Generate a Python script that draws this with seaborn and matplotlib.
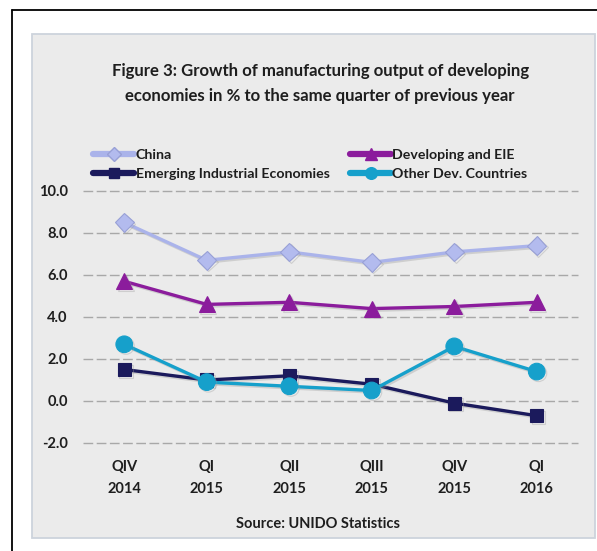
import matplotlib
matplotlib.use("Agg")
import matplotlib.pyplot as plt
import matplotlib.patheffects as pe
from matplotlib.patches import Rectangle
from matplotlib.lines import Line2D
import seaborn as sns

# Quarterly growth of manufacturing output (% vs same quarter of previous year)
quarters = ["QIV\n2014", "QI\n2015", "QII\n2015", "QIII\n2015", "QIV\n2015", "QI\n2016"]
china = [8.5, 6.7, 7.1, 6.6, 7.1, 7.4]
developing_eie = [5.7, 4.6, 4.7, 4.4, 4.5, 4.7]
emerging_industrial = [1.5, 1.0, 1.2, 0.8, -0.1, -0.7]
other_dev = [2.7, 0.9, 0.7, 0.5, 2.6, 1.4]

series_names = ["China", "Developing and EIE", "Emerging Industrial Economies", "Other Dev. Countries"]
y_ticks = [-2.0, 0.0, 2.0, 4.0, 6.0, 8.0, 10.0]

title_line1 = "Figure 3: Growth of manufacturing output of developing"
title_line2 = "economies in % to the same quarter of previous year"
source_text = "Source: UNIDO Statistics"

styles = {
    "China": dict(color="#aab3ea", marker="D", ms=9.5, mfc="#b3bbee", mec="#98a0d6"),
    "Developing and EIE": dict(color="#8b1c9c", marker="^", ms=11.5, mfc="#8b1c9c", mec="#8b1c9c"),
    "Emerging Industrial Economies": dict(color="#1b1a5c", marker="s", ms=9.5, mfc="#1b1a5c", mec="#1b1a5c"),
    "Other Dev. Countries": dict(color="#16a0cb", marker="o", ms=12, mfc="#16a0cb", mec="#16a0cb"),
}
values = {
    "China": china,
    "Developing and EIE": developing_eie,
    "Emerging Industrial Economies": emerging_industrial,
    "Other Dev. Countries": other_dev,
}

sns.set_theme(style="white")
plt.rcParams["font.family"] = ["Lato", "DejaVu Sans"]
plt.rcParams["font.weight"] = "bold"

W, H = 597, 551
fig = plt.figure(figsize=(W / 100, H / 100), dpi=100)
fig.patch.set_facecolor("white")


def fx(px):
    return px / W


def fy(py):
    return 1 - py / H


# outer frame (left and top edges)
fig.add_artist(Line2D([fx(11.5), fx(11.5)], [fy(10), 0], color="black", lw=1.3, zorder=-3))
fig.add_artist(Line2D([fx(11.5), 1], [fy(10), fy(10)], color="black", lw=1.3, zorder=-3))

# grey chart panel
fig.add_artist(Rectangle((fx(32), fy(538)), (595 - 32) / W, (538 - 34) / H,
                         transform=fig.transFigure, facecolor="#ebebeb",
                         edgecolor="#cdd3dc", lw=1.3, zorder=-2))

ax = fig.add_axes([fx(83), fy(443), (578 - 83) / W, (443 - 191) / H])
ax.set_facecolor("none")

text_color = "#1e1e1e"
shadow = [pe.SimpleLineShadow(offset=(1.2, -1.2), shadow_color="#9a9a9a", alpha=0.35), pe.Normal()]

for name in series_names:
    st = styles[name]
    sns.lineplot(x=quarters, y=values[name], ax=ax, color=st["color"], lw=2.4,
                 marker=st["marker"], markersize=st["ms"], markerfacecolor=st["mfc"],
                 markeredgecolor=st["mec"], markeredgewidth=0.8, label=name,
                 path_effects=shadow, sort=False)

ax.set_xlim(-0.5, 5.5)
ax.set_ylim(-2, 10)
ax.set_yticks(y_ticks)
ax.set_yticklabels([f"{v:.1f}" for v in y_ticks])
ax.grid(axis="y", color="#a8a8a8", lw=1.0, linestyle=(0, (7, 2.5)))
ax.grid(axis="x", visible=False)
for gl in ax.get_ygridlines():
    gl.set_clip_on(False)
for s in ax.spines.values():
    s.set_visible(False)
ax.tick_params(axis="both", length=0, labelsize=10.5, labelcolor=text_color)
ax.tick_params(axis="y", pad=11)
ax.tick_params(axis="x", pad=12)
for t in ax.get_xticklabels():
    t.set_linespacing(1.75)
    t.set_fontweight("bold")
for t in ax.get_yticklabels():
    t.set_fontweight("bold")
ax.set_xlabel("")
ax.set_ylabel("")

# legend split into two columns
ax.get_legend().remove()


def legend_handle(name):
    st = styles[name]
    return Line2D([], [], color=st["color"], lw=4.5, marker=st["marker"],
                  markersize=st["ms"] * 0.7, markerfacecolor=st["mfc"],
                  markeredgecolor=st["mec"])


leg_kw = dict(frameon=False, fontsize=10.2, handlelength=2.9, handletextpad=0.1,
              borderpad=0, borderaxespad=0, labelspacing=0.5, loc="upper left",
              bbox_transform=fig.transFigure, labelcolor=text_color)
fig.legend([legend_handle(n) for n in ["China", "Emerging Industrial Economies"]],
           ["China", "Emerging Industrial Economies"],
           bbox_to_anchor=(fx(93), fy(149)), **leg_kw)
fig.legend([legend_handle(n) for n in ["Developing and EIE", "Other Dev. Countries"]],
           ["Developing and EIE", "Other Dev. Countries"],
           bbox_to_anchor=(fx(350), fy(149)), **leg_kw)

fig.text(fx(321), fy(71), title_line1, ha="center", va="center", fontsize=12.1,
         weight="bold", color=text_color)
fig.text(fx(320), fy(96), title_line2, ha="center", va="center", fontsize=12.1,
         weight="bold", color=text_color)
fig.text(fx(318), fy(524), source_text, ha="center", va="center", fontsize=10.5,
         weight="bold", color=text_color)

fig.savefig("out.png", dpi=100)
